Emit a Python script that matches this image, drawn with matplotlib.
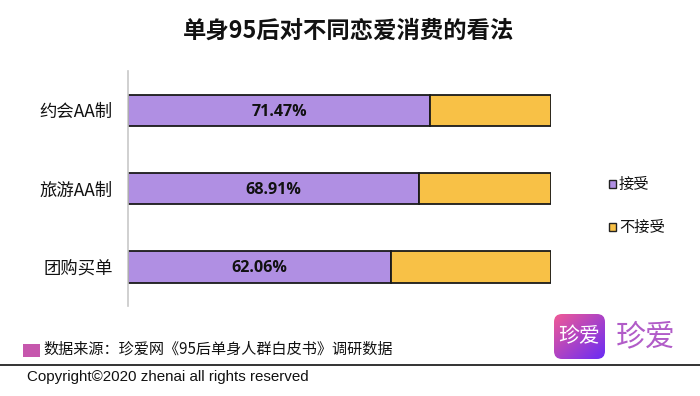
import numpy as np
import matplotlib
matplotlib.use("Agg")
import matplotlib.pyplot as plt
from matplotlib.patches import FancyBboxPatch, Rectangle

plt.rcParams['font.family'] = ['Noto Sans CJK SC', 'DejaVu Sans']

categories = ["约会AA制", "旅游AA制", "团购买单"]
accept = [71.47, 68.91, 62.06]
reject = [28.53, 31.09, 37.94]
series_names = ["接受", "不接受"]
PURPLE = "#b08fe3"
YELLOW = "#f8c146"
W, H = 700, 396

fig = plt.figure(figsize=(W / 100, H / 100), dpi=100, facecolor="white")

# overlay in pixel coords for the slide furniture
bg = fig.add_axes([0, 0, 1, 1])
bg.set_xlim(0, W)
bg.set_ylim(H, 0)
bg.axis("off")

ax = fig.add_axes([128 / W, 1 - 306 / H, (551 - 128) / W, 235 / H])
y = np.arange(len(categories))
ax.barh(y, accept, height=0.4, color=PURPLE, edgecolor="#1a1a1a", lw=1.3)
ax.barh(y, reject, left=accept, height=0.4, color=YELLOW, edgecolor="#1a1a1a", lw=1.3)
ax.set_xlim(0, 100)
ax.set_ylim(2.5, -0.5)
ax.set_yticks(y, categories, fontsize=12.5, color="#111111")
ax.tick_params(axis="y", length=0, pad=11)
ax.set_xticks([])
for s in ["top", "right", "bottom"]:
    ax.spines[s].set_visible(False)
ax.spines["left"].set_color("#c8c8c8")
ax.spines["left"].set_linewidth(1.2)
for i, v in enumerate(accept):
    ax.text(v / 2, i + 0.02, f"{v:.2f}%", ha="center", va="center", fontsize=11.6,
            fontweight="bold", color="#111111", family=["Open Sans", "DejaVu Sans"])

bg.text(349, 31, "单身95后对不同恋爱消费的看法", ha="center", va="center",
        fontsize=16.8, fontweight="bold", color="#111111")

# legend
for name, col, ly in zip(series_names, [PURPLE, YELLOW], [184, 227]):
    bg.add_patch(Rectangle((609, ly - 4), 7, 8, fc=col, ec="#222222", lw=1))
    bg.text(619, ly, name, ha="left", va="center", fontsize=11, color="#111111")

# source + copyright
bg.add_patch(Rectangle((23, 344), 17, 13, fc="#c657ad", ec="none"))
bg.text(43, 349, "数据来源：珍爱网《95后单身人群白皮书》调研数据", ha="left", va="center",
        fontsize=10.9, color="#111111")
bg.plot([0, W], [365, 365], color="#111111", lw=1.2)
bg.text(27, 377, "Copyright©2020 zhenai all rights reserved", ha="left", va="center",
        fontsize=10.9, color="#111111", family=["Liberation Sans"])

# logo: gradient rounded square
grad = np.linspace(0, 1, 64)
gx, gy = np.meshgrid(grad, grad)
t = (gx + gy) / 2
c0 = np.array([0xf0, 0x5a, 0x96]) / 255
c1 = np.array([0x6a, 0x2c, 0xf5]) / 255
img = c0[None, None, :] * (1 - t[..., None]) + c1[None, None, :] * t[..., None]
im = bg.imshow(img, extent=(554, 605, 359, 314), aspect="auto", zorder=2)
clip = FancyBboxPatch((558, 318), 43, 37, boxstyle="round,pad=4,rounding_size=8",
                      fc="none", ec="none", transform=bg.transData)
bg.add_patch(clip)
im.set_clip_path(clip)
bg.set_xlim(0, W)
bg.set_ylim(H, 0)
bg.text(579.5, 336, "珍爱", ha="center", va="center", fontsize=15, color="white", zorder=3)
bg.text(645.5, 337, "珍爱", ha="center", va="center", fontsize=21.5, color="#b15cc8")

fig.savefig("out.png", dpi=100)
